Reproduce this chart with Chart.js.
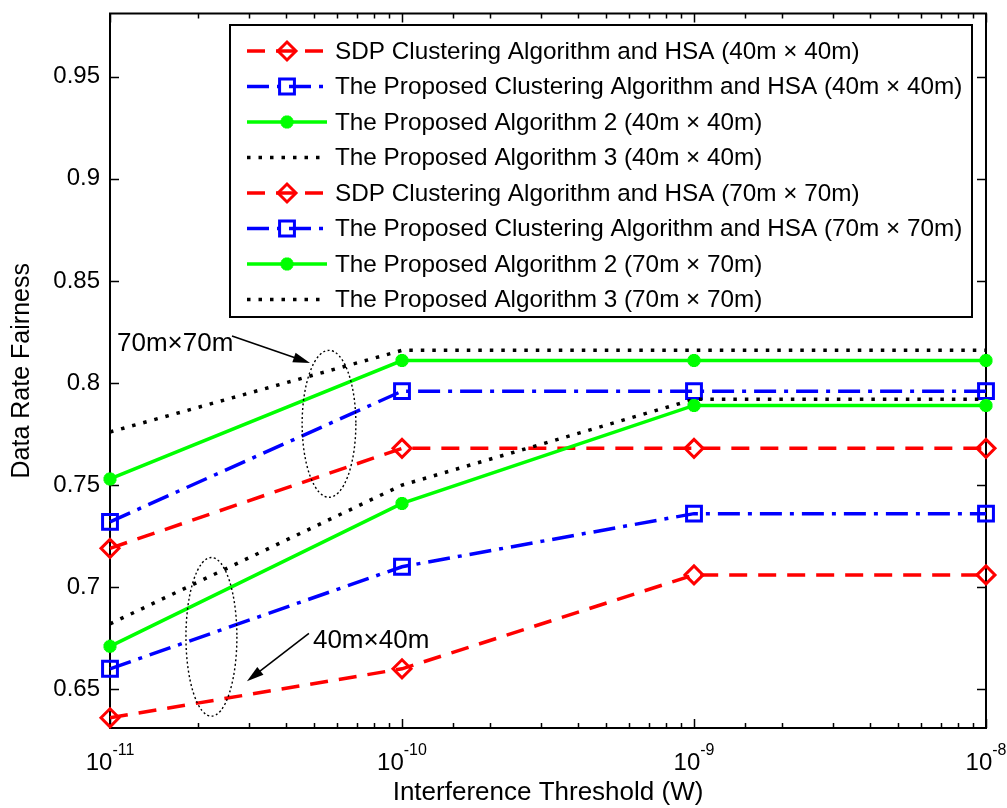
<!DOCTYPE html>
<html lang="en">
<head>
<meta charset="UTF-8">
<title>Data Rate Fairness vs Interference Threshold</title>
<script src="https://cdn.jsdelivr.net/npm/chart.js"></script>
<style>
  html, body { margin: 0; padding: 0; background: #fff; }
</style>
</head>
<body>
<canvas id="fairnessChart" width="1007" height="808"></canvas>

<script>
// x values (W) and the eight curves
const thresholds = [1e-11, 1e-10, 1e-9, 1e-8];

const seriesLabels = [
  'SDP Clustering Algorithm and HSA (40m \u00d7 40m)',
  'The Proposed Clustering Algorithm and HSA (40m \u00d7 40m)',
  'The Proposed Algorithm 2 (40m \u00d7 40m)',
  'The Proposed Algorithm 3 (40m \u00d7 40m)',
  'SDP Clustering Algorithm and HSA (70m \u00d7 70m)',
  'The Proposed Clustering Algorithm and HSA (70m \u00d7 70m)',
  'The Proposed Algorithm 2 (70m \u00d7 70m)',
  'The Proposed Algorithm 3 (70m \u00d7 70m)'
];

const sdp40   = [0.636, 0.660, 0.706, 0.706];
const prop40  = [0.660, 0.710, 0.736, 0.736];
const alg2_40 = [0.671, 0.741, 0.789, 0.789];
const alg3_40 = [0.682, 0.750, 0.792, 0.792];
const sdp70   = [0.719, 0.768, 0.768, 0.768];
const prop70  = [0.732, 0.796, 0.796, 0.796];
const alg2_70 = [0.753, 0.811, 0.811, 0.811];
const alg3_70 = [0.776, 0.816, 0.816, 0.816];

const yTicks = [0.65, 0.7, 0.75, 0.8, 0.85, 0.9, 0.95];

const FONT = '"Liberation Sans", Arial, Helvetica, sans-serif';
Chart.defaults.font.family = FONT;
Chart.defaults.color = '#000';

// line styles per algorithm (same look for both area sizes)
const styles = {
  sdp:  { color: '#ff0000', dash: [18, 11],        point: 'rectRot', r: 9,    fill: 'rgba(0,0,0,0)', pw: 3 },
  prop: { color: '#0000ff', dash: [22, 8, 4, 8],   point: 'rect',    r: 10.5, fill: 'rgba(0,0,0,0)', pw: 3 },
  alg2: { color: '#00ff00', dash: [],              point: 'star',    r: 6.5,  fill: '#00ff00',       pw: 4.5 },
  alg3: { color: '#000000', dash: [3.5, 8],        point: false,     r: 0,    fill: '#000000',       pw: 0 }
};

function makeSet(label, values, st) {
  return {
    label: label,
    data: thresholds.map((x, i) => ({ x: x, y: values[i] })),
    borderColor: st.color,
    backgroundColor: st.fill,
    borderWidth: 3.5,
    borderDash: st.dash,
    pointStyle: st.point,
    pointRadius: st.r,
    pointHoverRadius: st.r,
    pointBorderWidth: st.pw,
    pointBorderColor: st.color,
    pointBackgroundColor: st.fill,
    tension: 0,
    clip: false
  };
}

// annotation helpers, positioned in data space
const notes = [
  { text: '70m\u00d770m', x: 1.057e-11, y: 0.8156,
    arrowFrom: [2.617e-11, 0.8230], arrowTo: [4.842e-11, 0.8098],
    ellipseX: [4.55e-11, 6.95e-11], ellipseY: [0.744, 0.816] },
  { text: '40m\u00d740m', x: 4.955e-11, y: 0.6700,
    arrowFrom: [4.80e-11, 0.6774], arrowTo: [2.944e-11, 0.6539],
    ellipseX: [1.82e-11, 2.72e-11], ellipseY: [0.6368, 0.7145] }
];

function arrow(ctx, x1, y1, x2, y2) {
  const ang = Math.atan2(y2 - y1, x2 - x1);
  const len = 17, half = 5;
  ctx.beginPath();
  ctx.moveTo(x1, y1);
  ctx.lineTo(x2 - Math.cos(ang) * len * 0.8, y2 - Math.sin(ang) * len * 0.8);
  ctx.stroke();
  ctx.beginPath();
  ctx.moveTo(x2, y2);
  ctx.lineTo(x2 - Math.cos(ang) * len - Math.sin(ang) * half, y2 - Math.sin(ang) * len + Math.cos(ang) * half);
  ctx.lineTo(x2 - Math.cos(ang) * len + Math.sin(ang) * half, y2 - Math.sin(ang) * len - Math.cos(ang) * half);
  ctx.closePath();
  ctx.fill();
}

const matlabFrame = {
  id: 'matlabFrame',
  beforeDatasetsDraw(chart) {
    const { ctx, chartArea: a, scales: { x, y } } = chart;
    ctx.save();
    ctx.strokeStyle = '#000';
    ctx.lineWidth = 2;
    ctx.setLineDash([]);
    ctx.strokeRect(a.left, a.top, a.right - a.left, a.bottom - a.top);
    ctx.lineWidth = 1.5;
    ctx.beginPath();
    y.ticks.forEach(t => {
      const py = Math.round(y.getPixelForValue(t.value)) + 0.5;
      ctx.moveTo(a.left, py); ctx.lineTo(a.left + 9, py);
      ctx.moveTo(a.right, py); ctx.lineTo(a.right - 9, py);
    });
    x.ticks.forEach(t => {
      const lg = Math.log10(t.value);
      const major = Math.abs(lg - Math.round(lg)) < 1e-6;
      const len = major ? 9 : 5;
      const px = Math.round(x.getPixelForValue(t.value)) + 0.5;
      ctx.moveTo(px, a.bottom); ctx.lineTo(px, a.bottom - len);
      ctx.moveTo(px, a.top); ctx.lineTo(px, a.top + len);
    });
    ctx.stroke();
    ctx.restore();
  },
  afterDraw(chart) {
    const { ctx, chartArea: a, scales: { x, y } } = chart;
    ctx.save();

    // decade labels 10^n with superscript exponent
    ctx.fillStyle = '#000';
    ctx.textBaseline = 'alphabetic';
    thresholds.forEach(v => {
      const px = x.getPixelForValue(v);
      const base = '10';
      const exp = String(Math.round(Math.log10(v)));
      ctx.font = '24px ' + FONT;
      const wb = ctx.measureText(base).width;
      ctx.font = '16px ' + FONT;
      const we = ctx.measureText(exp).width;
      const left = px - (wb + we) / 2;
      ctx.font = '24px ' + FONT;
      ctx.textAlign = 'left';
      ctx.fillText(base, left, a.bottom + 42);
      ctx.font = '16px ' + FONT;
      ctx.fillText(exp, left + wb, a.bottom + 27);
    });

    // ellipses, arrows and area labels
    ctx.strokeStyle = '#000';
    ctx.fillStyle = '#000';
    notes.forEach(n => {
      const x1 = x.getPixelForValue(n.ellipseX[0]), x2 = x.getPixelForValue(n.ellipseX[1]);
      const y1 = y.getPixelForValue(n.ellipseY[1]), y2 = y.getPixelForValue(n.ellipseY[0]);
      ctx.lineWidth = 1.4;
      ctx.setLineDash([2, 2.5]);
      ctx.beginPath();
      ctx.ellipse((x1 + x2) / 2, (y1 + y2) / 2, (x2 - x1) / 2, (y2 - y1) / 2, 0, 0, Math.PI * 2);
      ctx.stroke();
      ctx.setLineDash([]);
      ctx.lineWidth = 1.6;
      arrow(ctx, x.getPixelForValue(n.arrowFrom[0]), y.getPixelForValue(n.arrowFrom[1]),
                 x.getPixelForValue(n.arrowTo[0]), y.getPixelForValue(n.arrowTo[1]));
      ctx.font = '26px ' + FONT;
      ctx.textAlign = 'left';
      ctx.textBaseline = 'alphabetic';
      ctx.fillText(n.text, x.getPixelForValue(n.x), y.getPixelForValue(n.y));
    });

    // legend box
    const box = { left: 230, top: 25, right: 972, bottom: 317 };
    ctx.fillStyle = '#fff';
    ctx.fillRect(box.left, box.top, box.right - box.left, box.bottom - box.top);
    ctx.strokeStyle = '#000';
    ctx.lineWidth = 2;
    ctx.strokeRect(box.left, box.top, box.right - box.left, box.bottom - box.top);
    chart.data.datasets.forEach((ds, i) => {
      const ry = 51 + i * 35.5;
      ctx.strokeStyle = ds.borderColor;
      ctx.lineWidth = ds.borderWidth;
      ctx.setLineDash(ds.borderDash);
      ctx.beginPath();
      ctx.moveTo(247, ry); ctx.lineTo(327, ry);
      ctx.stroke();
      ctx.setLineDash([]);
      if (ds.pointStyle) {
        ctx.fillStyle = ds.pointBackgroundColor;
        ctx.strokeStyle = ds.pointBorderColor;
        ctx.lineWidth = ds.pointBorderWidth;
        Chart.helpers.drawPoint(ctx, {
          pointStyle: ds.pointStyle, radius: ds.pointRadius, rotation: 0, borderWidth: ds.pointBorderWidth
        }, 287, ry);
      }
      ctx.fillStyle = '#000';
      ctx.font = '24.3px ' + FONT;
      ctx.textAlign = 'left';
      ctx.textBaseline = 'middle';
      ctx.fillText(ds.label, 335, ry + 1);
    });
    ctx.restore();
  }
};

const ctx = document.getElementById('fairnessChart').getContext('2d');
const fairnessChart = new Chart(ctx, {
  type: 'line',
  data: {
    datasets: [
      makeSet(seriesLabels[0], sdp40, styles.sdp),
      makeSet(seriesLabels[1], prop40, styles.prop),
      makeSet(seriesLabels[2], alg2_40, styles.alg2),
      makeSet(seriesLabels[3], alg3_40, styles.alg3),
      makeSet(seriesLabels[4], sdp70, styles.sdp),
      makeSet(seriesLabels[5], prop70, styles.prop),
      makeSet(seriesLabels[6], alg2_70, styles.alg2),
      makeSet(seriesLabels[7], alg3_70, styles.alg3)
    ]
  },
  options: {
    responsive: false,
    animation: false,
    layout: { padding: { left: 0, top: 12, right: 21, bottom: 0 } },
    plugins: {
      legend: { display: false },
      tooltip: { enabled: false }
    },
    scales: {
      x: {
        type: 'logarithmic',
        min: 1e-11,
        max: 1e-8,
        ticks: { display: false },
        grid: { display: false, drawTicks: false },
        border: { display: false },
        title: {
          display: true,
          text: 'Interference Threshold (W)',
          color: '#000',
          font: { size: 26 },
          padding: { top: 0, bottom: 0 }
        },
        afterFit(s) { s.height = 80; s.paddingLeft = 0; s.paddingRight = 0; }
      },
      y: {
        type: 'linear',
        min: 0.631,
        max: 0.981,
        afterBuildTicks(s) { s.ticks = yTicks.map(v => ({ value: v })); },
        ticks: {
          color: '#000',
          font: { size: 24 },
          padding: 10,
          callback: v => String(+v.toFixed(2))
        },
        grid: { display: false, drawTicks: false },
        border: { display: false },
        title: {
          display: true,
          text: 'Data Rate Fairness',
          color: '#000',
          font: { size: 25 },
          padding: { top: 7, bottom: 0 }
        },
        afterFit(s) { s.width = 110; s.paddingTop = 0; s.paddingBottom = 0; }
      }
    }
  },
  plugins: [matlabFrame]
});
</script>
</body>
</html>
